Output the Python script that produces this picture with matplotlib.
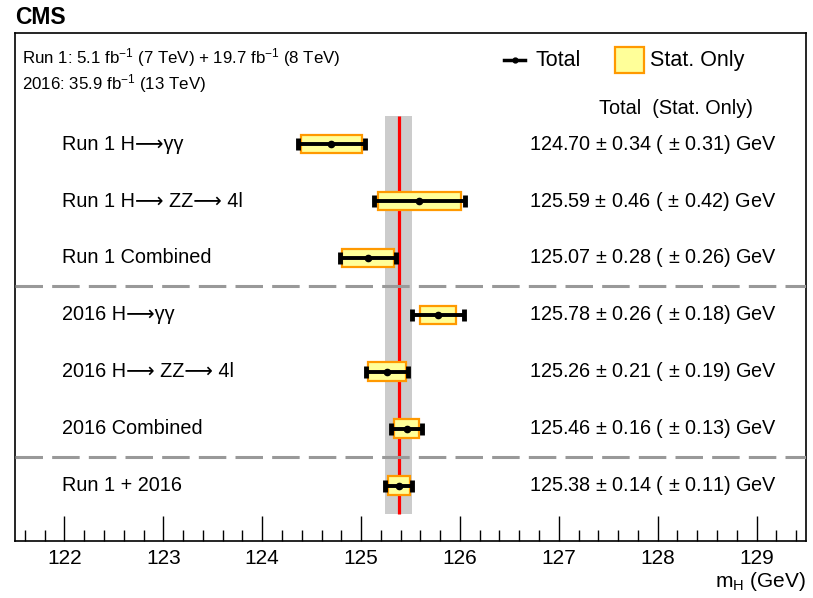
import numpy as np
import matplotlib
matplotlib.use("Agg")
import matplotlib.pyplot as plt
from matplotlib.ticker import MultipleLocator

plt.rcParams['font.family'] = ['Liberation Sans', 'DejaVu Sans']
plt.rcParams['mathtext.fontset'] = 'custom'
plt.rcParams['mathtext.rm'] = 'Liberation Sans'
plt.rcParams['mathtext.it'] = 'Liberation Sans:italic'

# mass measurements, top row first
labels = ["Run 1 H\u27f6\u03b3\u03b3", "Run 1 H\u27f6 ZZ\u27f6 4l", "Run 1 Combined",
          "2016 H\u27f6\u03b3\u03b3", "2016 H\u27f6 ZZ\u27f6 4l", "2016 Combined",
          "Run 1 + 2016"]
mass = [124.70, 125.59, 125.07, 125.78, 125.26, 125.46, 125.38]
err_total = [0.34, 0.46, 0.28, 0.26, 0.21, 0.16, 0.14]
err_stat = [0.31, 0.42, 0.26, 0.18, 0.19, 0.13, 0.11]

best = mass[-1]
best_err = err_total[-1]

W, H = 813, 598
fig = plt.figure(figsize=(W / 100, H / 100), dpi=100)
ax = fig.add_axes([15 / W, (H - 541) / H, (806 - 15) / W, (541 - 33) / H])

n = len(mass)
ypos = np.arange(n, 0, -1)

# combined result band and central line
ax.fill_betweenx([0.5, n + 0.5], best - best_err, best + best_err,
                 color="#cccccc", lw=0, zorder=1)
ax.vlines(best, 0.5, n + 0.5, color="#ff0000", lw=2.3, zorder=2)

# separators between Run 1 / 2016 / combination
for ysep in [4.5, 1.5]:
    ax.axhline(ysep, color="#999999", lw=2.2, dashes=(9, 3), zorder=3)

ax.barh(ypos, [2 * s for s in err_stat], left=[m - s for m, s in zip(mass, err_stat)],
        height=0.33, color="#ffff99", edgecolor="#ff9900", lw=1.6, zorder=4)
ax.errorbar(mass, ypos, xerr=err_total, fmt="o", color="black", ms=4.5,
            elinewidth=2.8, capsize=4, capthick=3.5, zorder=5)

fs = 14.3
for y, lab, m, t, s in zip(ypos, labels, mass, err_total, err_stat):
    ax.text(0.06, y, lab, transform=ax.get_yaxis_transform(), fontsize=fs,
            va="center", ha="left")
    ax.text(0.963, y, "%.2f $\\pm$ %.2f ( $\\pm$ %.2f) GeV" % (m, t, s),
            transform=ax.get_yaxis_transform(), fontsize=fs, va="center", ha="right")

ax.text(0.933, 7.62, "Total  (Stat. Only)", transform=ax.get_yaxis_transform(),
        fontsize=fs, va="center", ha="right")

# legend drawn by hand
ax.plot([0.618, 0.645], [0.946, 0.946], transform=ax.transAxes, color="black", lw=2.5)
ax.plot([0.6315], [0.946], "o", transform=ax.transAxes, color="black", ms=3.5)
ax.text(0.658, 0.946, "Total", transform=ax.transAxes, fontsize=15.5, va="center")
ax.add_patch(plt.Rectangle((0.759, 0.922), 0.036, 0.05, transform=ax.transAxes,
                           facecolor="#ffff99", edgecolor="#ff9900", lw=1.6))
ax.text(0.803, 0.946, "Stat. Only", transform=ax.transAxes, fontsize=15.5, va="center")

ax.text(0.009, 0.951, "Run 1: 5.1 fb$^{-1}$ (7 TeV) + 19.7 fb$^{-1}$ (8 TeV)",
        transform=ax.transAxes, fontsize=12.2, va="center")
ax.text(0.009, 0.900, "2016: 35.9 fb$^{-1}$ (13 TeV)",
        transform=ax.transAxes, fontsize=12.2, va="center")

fig.text(15 / W, 1 - 17 / H, "CMS", fontsize=16.5, fontweight="bold", va="center")

ax.set_xlim(121.5, 129.5)
ax.set_ylim(0.03, 8.95)
ax.xaxis.set_major_locator(MultipleLocator(1))
ax.xaxis.set_minor_locator(MultipleLocator(0.2))
ax.tick_params(axis="x", which="major", direction="in", length=18, width=1, labelsize=15, pad=6)
ax.tick_params(axis="x", which="minor", direction="in", length=8, width=1)
ax.set_yticks([])
for sp in ax.spines.values():
    sp.set_linewidth(1.2)
ax.set_xlabel("m$_{\\mathrm{H}}$ (GeV)", fontsize=15, loc="right", labelpad=1)

fig.savefig("out.png", dpi=100)
